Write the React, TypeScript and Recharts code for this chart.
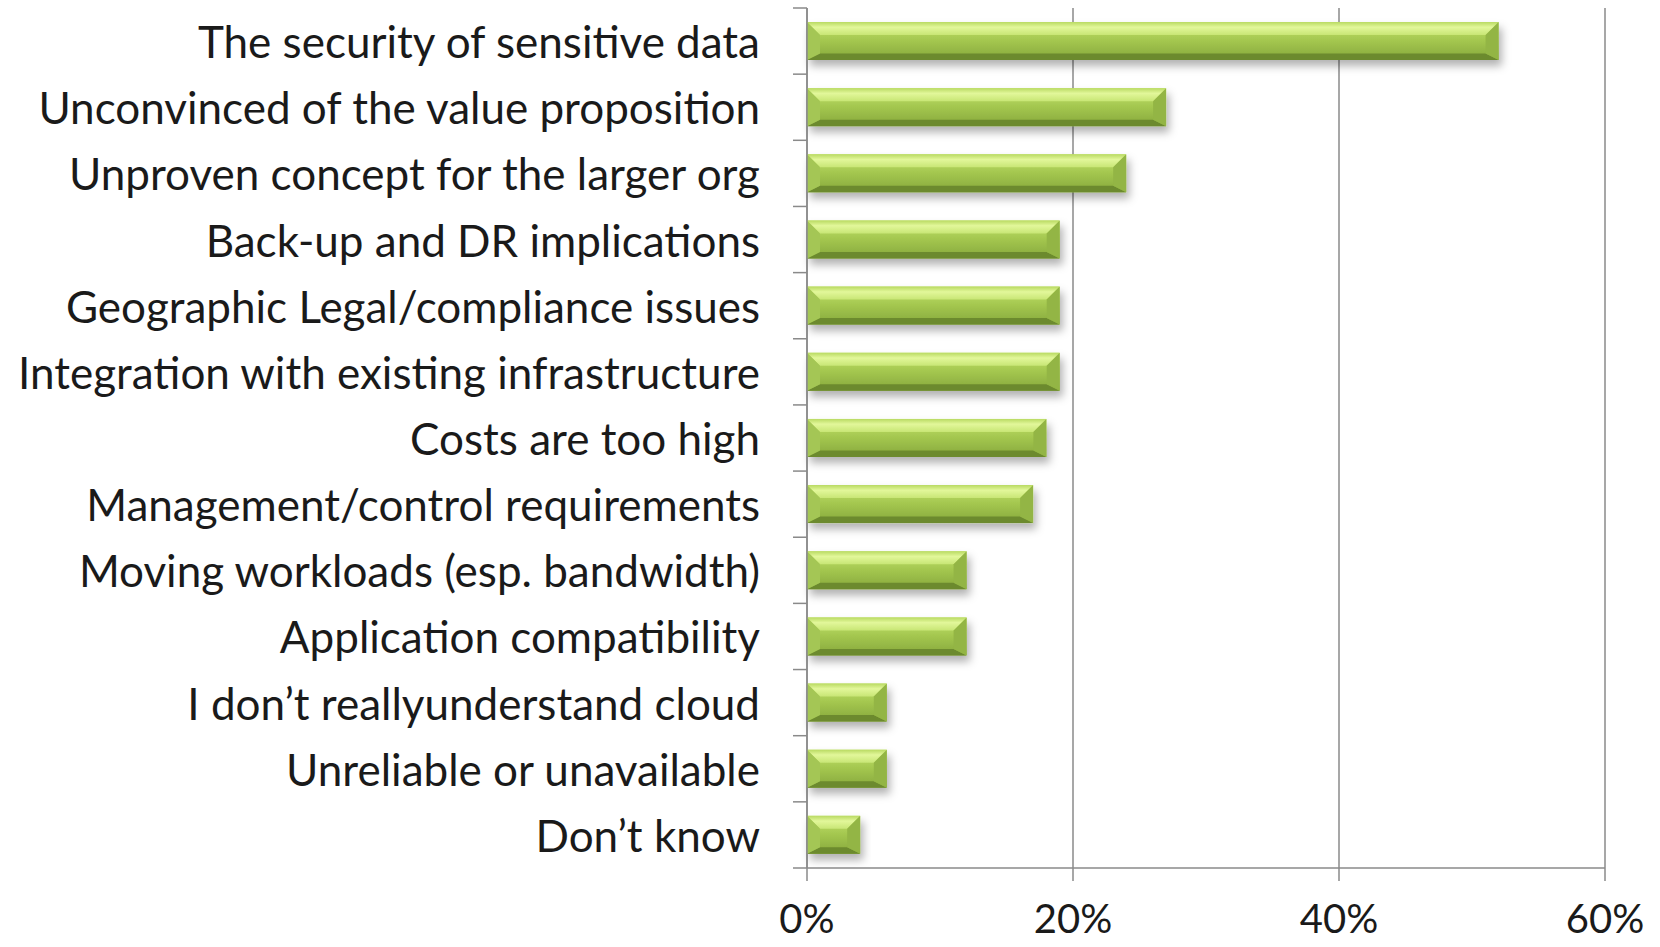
import { BarChart, Bar, XAxis, YAxis, CartesianGrid } from 'recharts';

const categories = [
  'The security of sensitive data',
  'Unconvinced of the value proposition',
  'Unproven concept for the larger org',
  'Back-up and DR implications',
  'Geographic Legal/compliance issues',
  'Integration with existing infrastructure',
  'Costs are too high',
  'Management/control requirements',
  'Moving workloads (esp. bandwidth)',
  'Application compatibility',
  'I don\u2019t reallyunderstand cloud',
  'Unreliable or unavailable',
  'Don\u2019t know',
];

const shares = [52, 27, 24, 19, 19, 19, 18, 17, 12, 12, 6, 6, 4];

const xTicks = [0, 20, 40, 60];

const data = categories.map((name, i) => ({ name, value: shares[i] }));

const WIDTH = 1660;
const HEIGHT = 947;
const AXIS_X = 807;
const TOP = 8;
const X_AXIS_H = 79;
const HALF_BAND = (HEIGHT - TOP - X_AXIS_H) / categories.length / 2;
const FONT = 'Lato, "Open Sans", sans-serif';
const GREY = '#8a8a8a';

const CategoryTick = (props: any) => {
  const { y, payload, index } = props;
  const half = payload?.offset || HALF_BAND;
  const last = index === categories.length - 1;
  return (
    <g>
      <line x1={AXIS_X - 14} x2={AXIS_X} y1={y - half} y2={y - half} stroke={GREY} strokeWidth={1.5} />
      {last && (
        <line x1={AXIS_X - 14} x2={AXIS_X} y1={y + half} y2={y + half} stroke={GREY} strokeWidth={1.5} />
      )}
      <text
        x={AXIS_X - 47}
        y={y}
        textAnchor="end"
        dominantBaseline="central"
        fontSize={44}
        fontFamily={FONT}
        fill="#1a1a1a"
      >
        {payload.value}
      </text>
    </g>
  );
};

// bevelled bar, like the office "soft edge" look
const BevelBar = (props: any) => {
  const { x, y, width, height } = props;
  if (!width || width <= 0) return null;
  const b = Math.min(13, width / 2, height / 2);
  const r = x + width;
  const btm = y + height;
  return (
    <g filter="url(#barShadow)">
      <rect x={x} y={y} width={width} height={height} fill="url(#faceGrad)" />
      <polygon points={`${x},${y} ${r},${y} ${r - b},${y + b} ${x + b},${y + b}`} fill="url(#topGrad)" />
      <polygon points={`${x},${btm} ${r},${btm} ${r - b},${btm - b * 0.5} ${x + b},${btm - b * 0.5}`} fill="#6c8a2e" />
      <polygon points={`${x},${y} ${x + b},${y + b} ${x + b},${btm - b * 0.5} ${x},${btm}`} fill="#a4c654" />
      <polygon points={`${r},${y} ${r - b},${y + b} ${r - b},${btm - b * 0.5} ${r},${btm}`} fill="#93b544" />
    </g>
  );
};

export default function App() {
  return (
    <div style={{ width: WIDTH, height: HEIGHT, background: '#fff' }}>
      <style>{`body{margin:0}`}</style>
      <BarChart
        width={WIDTH}
        height={HEIGHT}
        data={data}
        layout="vertical"
        margin={{ top: TOP, right: 55, bottom: 0, left: 0 }}
        barSize={38}
      >
        <defs>
          <linearGradient id="faceGrad" x1="0" y1="0" x2="0" y2="1">
            <stop offset="0%" stopColor="#c4e36e" />
            <stop offset="45%" stopColor="#a6c951" />
            <stop offset="100%" stopColor="#86a83b" />
          </linearGradient>
          <linearGradient id="topGrad" x1="0" y1="0" x2="0" y2="1">
            <stop offset="0%" stopColor="#b9da62" />
            <stop offset="40%" stopColor="#e2f79a" />
            <stop offset="100%" stopColor="#c8e675" />
          </linearGradient>
          <filter id="barShadow" x="-10%" y="-30%" width="130%" height="180%">
            <feDropShadow dx="3" dy="6" stdDeviation="4" floodColor="#000" floodOpacity="0.3" />
          </filter>
        </defs>
        <CartesianGrid horizontal={false} stroke={GREY} strokeWidth={1.5} />
        <XAxis
          type="number"
          domain={[0, 60]}
          ticks={xTicks}
          interval={0}
          height={X_AXIS_H}
          tickFormatter={(v: number) => `${v}%`}
          axisLine={{ stroke: GREY, strokeWidth: 1.5 }}
          tickLine={{ stroke: GREY, strokeWidth: 1.5 }}
          tickSize={13}
          tickMargin={24}
          tick={{ fontSize: 40, fontFamily: FONT, fill: '#1a1a1a' }}
        />
        <YAxis
          type="category"
          dataKey="name"
          width={AXIS_X}
          interval={0}
          axisLine={{ stroke: GREY, strokeWidth: 1.5 }}
          tickLine={false}
          tick={<CategoryTick />}
        />
        <Bar dataKey="value" isAnimationActive={false} shape={<BevelBar />} />
      </BarChart>
    </div>
  );
}
